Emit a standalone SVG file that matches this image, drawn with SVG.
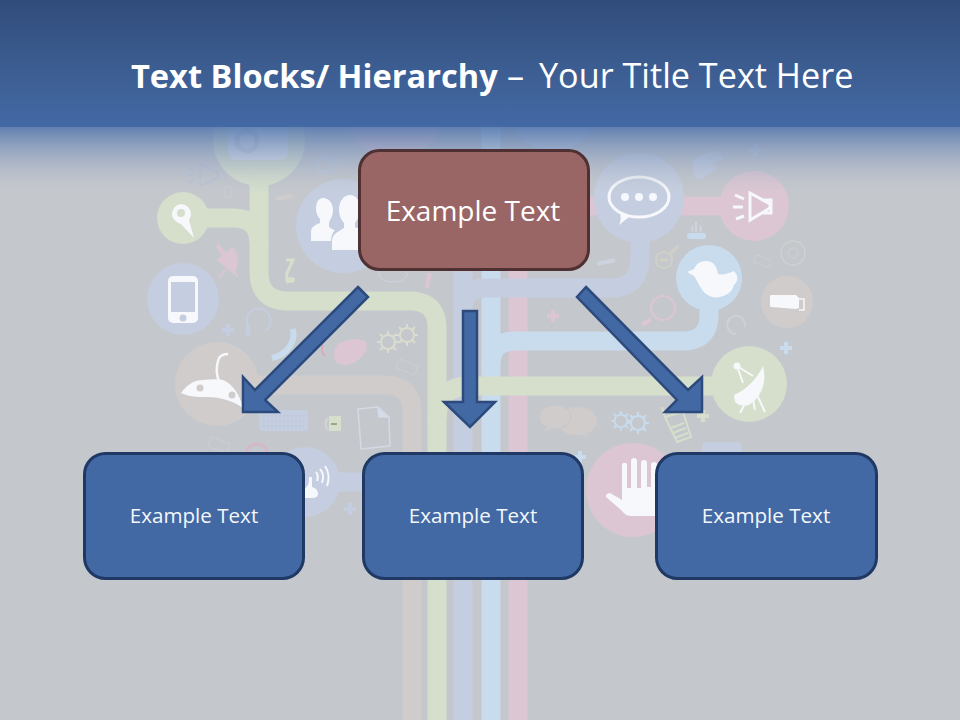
<svg xmlns="http://www.w3.org/2000/svg" width="960" height="720" viewBox="0 0 960 720">
<style>
.band{fill:none;stroke-width:19}
.tan{stroke:#d0cccb}.grn{stroke:#d5dfcc}.per{stroke:#c5cee0}.blu{stroke:#c9dced}.pnk{stroke:#dcc6d3}
.ftan{fill:#d0cccb}.fgrn{fill:#d5dfcc}.fper{fill:#c5cee0}.fblu{fill:#c9dced}.fpnk{fill:#dcc6d3}
.w{fill:#f6f8fb}
.wl{fill:none;stroke:#f6f8fb;stroke-width:3}
.o{fill:none;stroke-width:2}
.node{stroke-width:3}
.blue{fill:#4369a4;stroke:#1f3864}
.red{fill:#996565;stroke:#4f3033}
.arrow{fill:#4369a4;stroke:#2c4a7c;stroke-width:2.500;stroke-linejoin:miter}
text{font-family:"Open Sans","Noto Sans","DejaVu Sans",sans-serif;fill:#fff;text-anchor:middle}
.lbl{font-size:20.600px;fill:#f4f7fb}
</style>
<defs>
<linearGradient id="head" x1="0" y1="0" x2="0" y2="195" gradientUnits="userSpaceOnUse">
<stop offset="0" stop-color="#304c7b"/>
<stop offset="0.35" stop-color="#3c5d91"/>
<stop offset="0.651" stop-color="#4369a5"/>
<stop offset="0.652" stop-color="#5074ac" stop-opacity="0.85"/>
<stop offset="0.85" stop-color="#93a4c2" stop-opacity="0.42"/>
<stop offset="1" stop-color="#c4c7cc" stop-opacity="0"/>
</linearGradient>
<filter id="soft" x="-5%" y="-5%" width="110%" height="110%"><feGaussianBlur stdDeviation="0.5"/></filter>
<path id="plus" d="M-6-2H-2V-6H2V-2H6V2H2V6H-2V2H-6Z"/>
<g id="gear" fill="none" stroke-width="2"><circle r="7"/><path d="M0-11V-7M0 7V11M-11 0H-7M7 0H11M-8-8L-5-5M5 5L8 8M-8 8L-5 5M5-5L8-8"/></g>
</defs>
<rect id="bg" width="960" height="720" fill="#c4c7cc"/>
<g id="artwork" filter="url(#soft)">
<circle class="fpnk" cx="395" cy="108" r="50"/>
<circle class="fper" cx="553" cy="105" r="46"/>
<path class="band blu" d="M491 720V110"/>
<path class="band pnk" d="M518 720V255"/>
<path class="band tan" d="M217 385H385Q412 385 412 412V720"/>
<path class="band grn" d="M259 180V272Q259 301 288 301H410Q437 301 437 328V720"/>
<path class="band grn" d="M183 218H233Q259 218 259 244"/>
<path class="band pnk" d="M754 206H500"/>
<path class="band per" d="M305 482H400"/>
<path class="band per" d="M463 720V270"/>
<path class="band per" d="M640 198V258Q640 288 610 288H485Q463 288 463 310"/>
<path class="band blu" d="M709 278V315Q709 341 683 341H515Q491 341 491 365"/>
<path class="band grn" d="M749 386H470Q437 386 437 420"/>
<circle class="fgrn" cx="259" cy="140" r="46"/>
<rect x="228" y="110" width="60" height="50" rx="8" fill="#dde3ee"/>
<circle cx="247" cy="141" r="10" fill="none" stroke="#c9d1e0" stroke-width="5"/>
<circle class="fgrn" cx="183" cy="218" r="26"/>
<path class="w" d="M181 204a10 10 0 0 1 10 10c0 2-1 4-2 6l5 18-13-14c-4-1-9-5-9-10a10 10 0 0 1 9-10Z"/>
<circle cx="181" cy="213" r="4" fill="#d5dfcc"/>
<circle class="fper" cx="183" cy="299" r="36"/>
<rect class="w" x="168" y="276" width="30" height="47" rx="5"/>
<rect class="fper" x="171" y="282" width="24" height="30"/>
<circle class="fper" cx="183" cy="318" r="3.500"/>
<circle class="fper" cx="343" cy="226" r="47"/>
<path class="w" d="M323 198c6 0 10 5 10 12 0 5-2 9-4 12v5c3 2 4 3 6 3-3 3-4 7-4 11H311v-9c0-5 4-7 9-9v-4c-2-2-4-6-4-10 0-6 2-11 7-11Z"/>
<path class="w" d="M350 195c6 0 10 6 10 14 0 6-2 10-5 14v4l4 2v21H332v-9c0-6 5-9 12-13v-5c-3-3-5-8-5-13 0-9 5-15 11-15Z"/>
<circle class="ftan" cx="217" cy="384" r="42"/>
<path class="w" d="M181 393c5-7 12-13 22-13 7-1 14-1 20 0 10 4 17 15 20 28-10-7-22-11-36-11-9 0-18 0-26-4Z"/>
<path fill="none" stroke="#f6f8fb" stroke-width="2.500" d="M219 381c-3-7-3-13-1-20 1-5 5-7 10-7"/>
<circle cx="200" cy="388" r="3.500" fill="#d0cccb"/><circle cx="232" cy="395" r="3.500" fill="#d0cccb"/>
<circle class="fper" cx="305" cy="482" r="35"/>
<path class="w" d="M304 489c4-3 5-4 5-12h3v10c4 1 6 4 6 7 0 4-4 4-9 4s-9 0-9-4c0-2 2-4 4-5Z"/>
<path class="wl" style="stroke-width:2" d="M316 472q3 4 1 9M320 469q5 6 2 14M325 466q6 9 2 20"/>
<circle class="fper" cx="639" cy="198" r="45"/>
<ellipse class="wl" cx="639" cy="197" rx="30" ry="20"/>
<path class="w" d="M620 211l9 6-10 8c2-4 2-8 1-14Z"/>
<circle class="w" cx="625" cy="197" r="4"/><circle class="w" cx="639" cy="197" r="4"/><circle class="w" cx="653" cy="197" r="4"/>
<circle class="fpnk" cx="754" cy="206" r="35"/>
<path class="wl" d="M750 193v27l20-12v-4ZM763 200h8v13h-8M735 195l9 4M733 207h10M736 219l8-3"/>
<circle class="fblu" cx="709" cy="278" r="33"/>
<path class="w" d="M687 272l7-3c2-5 6-8 12-8 8 0 11 6 12 13 4 1 10 0 16-3 4 5 5 9 0 14-1 5-5 9-11 11-7 3-15 1-20-5-4-5-6-11-9-15Z"/>
<circle class="ftan" cx="787" cy="302" r="26"/>
<path class="w" d="M771 295h25l3 3v10l-3 1-25-2c-1 0-1-1-1-2v-8c0-1 0-2 1-2Z"/>
<path fill="none" stroke="#f6f8fb" stroke-width="1.500" d="M799 299h5v11h-5"/>
<circle class="fgrn" cx="749" cy="384" r="38"/>
<path class="w" d="M763 366c4 14 0 30-14 39-6 2-11 0-14-3l-1-7c12-5 23-16 29-29Z"/>
<path class="wl" style="stroke-width:2" d="M737 366l16 10M737 366l6 17M746 402l-6 11M753 399l2 11M757 395l8 17"/>
<circle class="w" cx="737" cy="366" r="3.500"/>
<circle class="fpnk" cx="633" cy="490" r="47"/>
<path class="w" d="M622 464a3 3 0 0 1 5 0v24h4v-27a3 3 0 0 1 6 0v27h4v-25a3 3 0 0 1 6 0v24h4v-22a3 3 0 0 1 6 0v51h-26c-5 0-7-3-10-6l-15-13c-1-2 2-4 4-4l12 7Z"/>
<g id="small-icons">
<path class="o" stroke="#b9c3d4" d="M200 164v22l18-8v-6ZM194 170l-7-3M194 175h-8M194 180l-7 3"/>
<use href="#gear" x="325" y="165" stroke="#bfcbdc"/><use href="#gear" x="339" y="159" stroke="#bfcbdc" transform="translate(102 48) scale(.7)"/>
<path class="band tan" style="stroke-width:4" d="M276 199L292 196"/>
<rect x="225" y="186" width="6" height="12" rx="2" fill="none" stroke="#ccced0" stroke-width="1"/>
<path class="fpnk" d="M232 248c6 6 6 16 2 25l-16-13c5-3 10-7 14-12ZM218 245l10 12-3 3-8-14ZM225 270l-6 8M231 268l7 9" stroke="#dcc6d3" stroke-width="2"/>
<path fill="none" stroke="#d5dfcc" stroke-width="3" d="M286 260h7l-6 13q-1 8 1 10"/><ellipse class="fgrn" cx="291" cy="280" rx="4" ry="3"/>
<path class="o" stroke="#c5cee0" d="M249 328a12 12 0 1 1 16 3"/><ellipse class="fper" cx="248" cy="331" rx="3" ry="5"/>
<use href="#plus" x="228" y="330" class="fper"/>
<path fill="none" stroke="#c9dced" stroke-width="6" d="M293 329c3 14-7 26-21 29"/>
<path class="fpnk" d="M337 345c6-6 23-8 29-3 3 6-1 14-11 20-7 4-15 4-20-1-2-5-1-11 2-16Z"/>
<path class="o" stroke="#d9a9bd" stroke-width="1" d="M323 345q-3 6 2 11"/>
<use href="#gear" x="388" y="342" stroke="#d9dccf"/><use href="#gear" x="407" y="335" stroke="#d9dccf"/>
<rect x="397" y="362" width="20" height="10" transform="rotate(20 407 367)" fill="none" stroke="#cdced2"/>
<rect x="259" y="410" width="49" height="21" rx="3" class="fper"/>
<path stroke="#b8c3d6" stroke-dasharray="2 2" d="M263 416H304M263 421H304M263 426H304" fill="none"/>
<rect x="329" y="416" width="12" height="15" class="fgrn"/><rect x="331" y="423" width="6" height="2" fill="#9aa88a"/><path class="o" stroke="#d5d5cf" stroke-width="1" d="M328 418q-5 6 0 12"/>
<path fill="none" stroke="#d3dae6" stroke-width="1.500" d="M358 409l20-2 11 10 1 29-29 3ZM378 407l1 10 10 0"/>
<path fill="#d3dce8" d="M378 408l10 9h-10Z"/>
<rect x="209" y="440" width="20" height="10" transform="rotate(20 219 445)" fill="none" stroke="#cdced2"/>
<circle cx="257" cy="455" r="11" fill="none" stroke="#d9b6c6" stroke-width="2.500"/>
<use href="#plus" x="350" y="509" class="fper"/>
<g class="ftan"><ellipse cx="577" cy="421" rx="20" ry="14"/><path d="M583 432l9 6-10-3Z"/></g>
<ellipse cx="555" cy="417" rx="16" ry="12" class="ftan" stroke="#c4c7cc"/><path class="ftan" d="M548 427l-5 4 10-2Z"/>
<use href="#gear" x="621" y="421" stroke="#c9dced" transform="translate(62 42) scale(.9)"/><use href="#gear" x="638" y="423" stroke="#c9dced"/>
<path fill="none" stroke="#d5dfcc" stroke-width="2" d="M665 417l18-5 8 25-14 5ZM665 417l-3-10M671 428l13-5M673 433l13-5M675 438l13-5"/>
<use href="#plus" x="703" y="416" class="fgrn"/>
<use href="#plus" x="786" y="348" class="fblu"/>
<use href="#plus" x="580" y="457" class="fblu"/>
<rect x="702" y="442" width="40" height="20" rx="4" class="fper"/>
<path class="fper" d="M693 159l24-10 3 4-12 5 14-3 1 4-14 6 9 0-3 5-12 8-7 1c-3-6-4-12-3-20Z"/>
<use href="#plus" x="755" y="150" class="fper"/>
<rect x="687" y="233" width="19" height="6" rx="3" fill="#c9dced"/>
<path class="o" stroke="#cfd4dc" stroke-width="1" d="M693 226q-2 3 0 6M700 226q2 3 0 6M696 222v10"/>
<circle cx="793" cy="253" r="12" fill="none" stroke="#cfd1d1" stroke-width="1.500"/><circle cx="793" cy="253" r="5" fill="none" stroke="#cfd1d1"/>
<circle cx="664" cy="260" r="8" fill="none" stroke="#cfd1c8" stroke-width="2"/><path stroke="#cfd1c8" stroke-width="3" d="M670 254l8-8M660 260h8"/>
<path class="band pnk" style="stroke-width:2" d="M663 296a12 12 0 1 0 .1 0Z"/>
<path stroke="#dcc6d3" stroke-width="4" d="M651 319l-9 6"/>
<path class="o" stroke="#cfd1d4" d="M736 334a9 9 0 1 1 9 -7"/>
<path stroke="#cdd3de" stroke-width="4" d="M597 264l18-4"/>
<rect x="754" y="257" width="17" height="8" rx="3" transform="rotate(20 762 261)" fill="none" stroke="#cdced2"/>
<use href="#plus" x="553" y="316" class="fpnk"/>
<path fill="#dcc6d3" d="M427 273h5l-3 15h-4Z"/>
<ellipse cx="393" cy="274" rx="14" ry="8" fill="none" stroke="#cdd3de"/>
</g>
</g>
<rect id="header" width="960" height="195" fill="url(#head)"/>
<text id="title" y="88" style="text-anchor:start"><tspan x="131" font-weight="700" font-size="32.600">Text Blocks/ Hierarchy</tspan><tspan x="507" font-size="34.200">–</tspan><tspan x="539" font-size="34.200">Your Title Text Here</tspan></text>
<g id="connectors">
<polygon class="arrow" points="358,287 368,297 265,400 278,412 243,412 243,377 255,390"/>
<polygon class="arrow" points="463,311 477,311 477,402 495,402 470,427 444,402 463,402"/>
<polygon class="arrow" points="586,287 688,390 702,377 702,412 665,412 677,400 577,297"/>
</g>
<g id="node-top"><rect class="node red" x="359.500" y="150.500" width="229" height="119" rx="20"/><text x="473" y="221" font-size="28">Example Text</text></g>
<g id="node-left"><rect class="node blue" x="84.500" y="453.500" width="219" height="125" rx="21"/><text class="lbl" x="194" y="523">Example Text</text></g>
<g id="node-middle"><rect class="node blue" x="363.500" y="453.500" width="219" height="125" rx="21"/><text class="lbl" x="473" y="523">Example Text</text></g>
<g id="node-right"><rect class="node blue" x="656.500" y="453.500" width="220" height="125" rx="21"/><text class="lbl" x="766" y="523">Example Text</text></g>
</svg>
